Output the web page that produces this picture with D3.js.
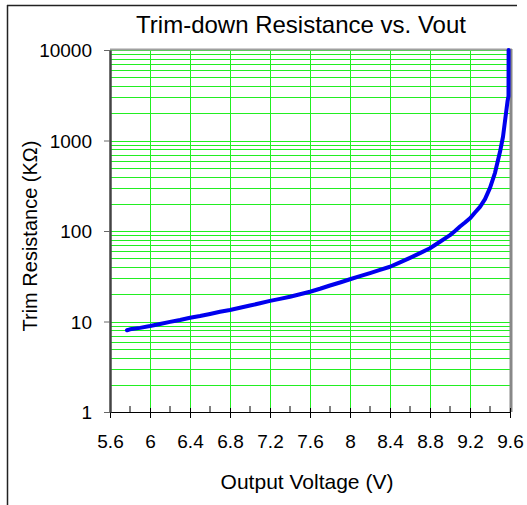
<!DOCTYPE html>
<html><head><meta charset="utf-8">
<script src="https://cdn.jsdelivr.net/npm/d3@7"></script>
<style>body{margin:0;background:#fff}svg{display:block}text{font-family:"Liberation Sans",Arial,sans-serif;fill:#000}</style>
</head><body><svg id="c" width="527" height="505"></svg>
<script>
const title = "Trim-down Resistance vs. Vout";
const xTitle = "Output Voltage (V)";
const yTitle = "Trim Resistance (KΩ)";
const xTicks = [5.6, 6, 6.4, 6.8, 7.2, 7.6, 8, 8.4, 8.8, 9.2, 9.6];
const xTickLabels = ["5.6","6","6.4","6.8","7.2","7.6","8","8.4","8.8","9.2","9.6"];
const yTicks = [1, 10, 100, 1000, 10000];
const yTickLabels = ["1","10","100","1000","10000"];
const vout = [5.77, 5.8, 5.9, 6.0, 6.1, 6.2, 6.3, 6.4, 6.5, 6.6, 6.7, 6.8, 6.9, 7.0, 7.1, 7.2, 7.3, 7.4, 7.5, 7.6, 7.7, 7.8, 7.9, 8.0, 8.1, 8.2, 8.3, 8.4, 8.5, 8.6, 8.7, 8.8, 8.9, 9.0, 9.05, 9.1, 9.15, 9.2, 9.25, 9.3, 9.35, 9.4, 9.45, 9.5, 9.53, 9.56, 9.575, 9.585, 9.586];
const rtrim = [8.0, 8.2, 8.5, 8.9, 9.4, 9.9, 10.4, 11.0, 11.5, 12.1, 12.8, 13.4, 14.2, 15.0, 15.9, 16.9, 17.8, 18.8, 20.0, 21.3, 23.0, 25.0, 27.0, 29.3, 31.7, 34.3, 37.2, 40.3, 45.0, 50.5, 57.0, 64.5, 76.0, 90.0, 100, 112, 124, 138, 160, 185, 225, 300, 440, 750, 1100, 2000, 2700, 3100, 10000];

const svg = d3.select("#c");
const L = 110, R = 510, T = 50, B = 412;
const x = d3.scaleLinear().domain([5.6, 9.6]).range([L, R]);
const y = d3.scaleLog().domain([1, 10000]).range([B, T]);

// outer frame
svg.append("line").attr("x1", 7).attr("x2", 517).attr("y1", 5.5).attr("y2", 5.5).attr("stroke", "#222").attr("stroke-width", 1.5);
svg.append("line").attr("x1", 7.5).attr("x2", 7.5).attr("y1", 5).attr("y2", 505).attr("stroke", "#222").attr("stroke-width", 1.5);

// gridlines
const yGrid = [];
for (let d = 1; d < 10000; d *= 10) for (let k = 1; k <= 9; k++) yGrid.push(d * k);
yGrid.push(10000);
const g = svg.append("g");
g.selectAll("line.h").data(yGrid).join("line")
  .attr("x1", L).attr("x2", R)
  .attr("y1", d => Math.round(y(d)) + 0.5).attr("y2", d => Math.round(y(d)) + 0.5)
  .attr("stroke", "#22ee22").attr("stroke-width", 1);
g.selectAll("line.v").data(xTicks.slice(1, -1)).join("line")
  .attr("y1", T).attr("y2", B)
  .attr("x1", d => Math.round(x(d)) + 0.5).attr("x2", d => Math.round(x(d)) + 0.5)
  .attr("stroke", "#22ee22").attr("stroke-width", 1);

// plot border top/right
svg.append("line").attr("x1", L).attr("x2", R + 2).attr("y1", T - 0.5).attr("y2", T - 0.5).attr("stroke", "#a0a0a0").attr("stroke-width", 2);
svg.append("line").attr("x1", R + 1).attr("x2", R + 1).attr("y1", T - 1).attr("y2", B).attr("stroke", "#888").attr("stroke-width", 3);

// curve
const line = d3.line().x((d, i) => x(vout[i])).y((d, i) => y(rtrim[i]));
svg.append("path").datum(rtrim).attr("d", line)
  .attr("fill", "none").attr("stroke", "#0000ee").attr("stroke-width", 4)
  .attr("stroke-linejoin", "round").attr("stroke-linecap", "round");

// x axis
const xAxis = d3.axisBottom(x).tickValues(xTicks).tickFormat((d, i) => xTickLabels[i]).tickSizeInner(6).tickSizeOuter(0).tickPadding(17);
const gx = svg.append("g").attr("transform", `translate(0,${B})`).call(xAxis);
gx.select(".domain").attr("stroke", "#000").attr("stroke-width", 1.2);
gx.selectAll(".tick line").attr("stroke", "#000").attr("y1", -4);
gx.selectAll("text").style("font-size", "19px").style("font-family", "'Liberation Sans',Arial,sans-serif");
// minor x ticks
const minor = xTicks.slice(0, -1).map(d => +(d + 0.2).toFixed(1));
svg.append("g").selectAll("line").data(minor).join("line")
  .attr("x1", d => x(d)).attr("x2", d => x(d)).attr("y1", B - 6).attr("y2", B)
  .attr("stroke", "#000").attr("stroke-width", 1);

// y axis
const yAxis = d3.axisLeft(y).tickValues(yTicks).tickFormat((d, i) => yTickLabels[i]).tickSizeInner(6).tickSizeOuter(0).tickPadding(12);
const gy = svg.append("g").attr("transform", `translate(${L},0)`).call(yAxis);
gy.select(".domain").attr("stroke", "#444").attr("stroke-width", 2.5);
gy.selectAll(".tick line").attr("stroke", "#666");
gy.selectAll("text").style("font-size", "19px").style("font-family", "'Liberation Sans',Arial,sans-serif").attr("dy", "0.36em");

// titles
svg.append("text").attr("x", 301).attr("y", 33).attr("text-anchor", "middle").style("font-size", "24px").text(title);
svg.append("text").attr("x", 307).attr("y", 489).attr("text-anchor", "middle").style("font-size", "21px").text(xTitle);
svg.append("text").attr("transform", "translate(37,236) rotate(-90)").attr("text-anchor", "middle").style("font-size", "20px").text(yTitle);
</script></body></html>
